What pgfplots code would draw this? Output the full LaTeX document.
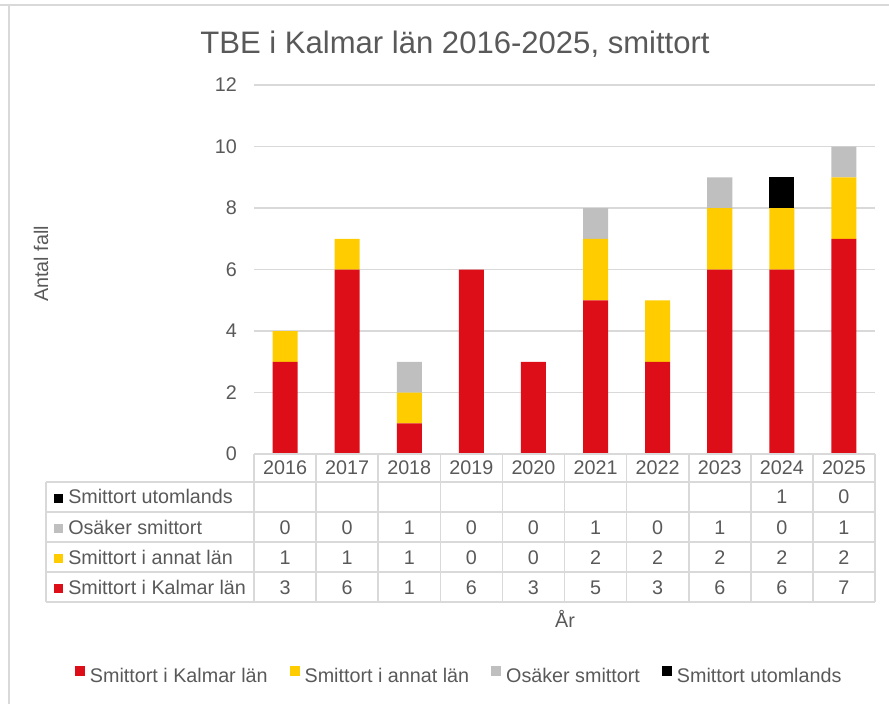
\documentclass[border=0pt]{standalone}
\usepackage{pgfplots}
\pgfplotsset{compat=1.18}
\usepackage{pgfplotstable}
\usepackage{fontspec}
\setmainfont{Liberation Sans}
\definecolor{kred}{RGB}{222,14,24}
\definecolor{kyel}{RGB}{255,204,0}
\definecolor{kgry}{RGB}{191,191,191}
\definecolor{txt}{RGB}{89,89,89}
\definecolor{lin}{RGB}{217,217,217}
\newcommand{\tf}{\fontsize{14.8pt}{17pt}\selectfont}

\pgfplotstableread{
x kalmar annat osaker utom
0 3 1 0 0
1 6 1 0 0
2 1 1 1 0
3 6 0 0 0
4 3 0 0 0
5 5 2 1 0
6 3 2 0 0
7 6 2 1 0
8 6 2 0 1
9 7 2 1 0
}\data

\pgfplotsset{sq/.style={legend image code/.code={\fill[##1] (0pt,0pt) rectangle (7.5pt,7.5pt);}}}

\begin{document}
\begin{tikzpicture}
\begin{scope}[x=0.75pt,y=0.75pt]
\path[use as bounding box] (0,0) rectangle (889,704);
\draw[lin, line width=1.5pt] (0,699) -- (889,699);
\draw[lin, line width=1.5pt] (8.5,699) -- (8.5,0);
\node[anchor=base, inner sep=0pt, text=txt, font=\fontsize{23.3pt}{26pt}\selectfont] at (455,650) {TBE i Kalmar län 2016-2025, smittort};
\end{scope}

\begin{axis}[
  at={(190.5pt,187.5pt)}, anchor=south west,
  scale only axis, width=465.75pt, height=276.75pt,
  ybar stacked, bar width=18.75pt,
  xmin=-0.5, xmax=9.5, ymin=0, ymax=12,
  ytick={0,2,...,12}, xtick=\empty,
  ymajorgrids, grid style={lin, line width=1pt},
  axis line style={draw=none}, major tick length=0pt,
  tick label style={font=\tf, text=txt},
  yticklabel style={inner sep=0pt, xshift=-12.75pt},
  /pgf/number format/assume math mode=true,
  clip=false,
  legend style={at={(-0.2887,-0.599)}, anchor=west, draw=none, fill=none,
    inner sep=0pt, legend columns=4,
    nodes={inner sep=0pt, font=\tf, text=txt},
    column sep=3.75pt,
    /tikz/every even column/.append style={column sep=16.5pt}},
]
\addplot[fill=kred, draw=none, sq] table[x=x, y=kalmar]{\data};
\addlegendentry{Smittort i Kalmar län}
\addplot[fill=kyel, draw=none, sq] table[x=x, y=annat]{\data};
\addlegendentry{Smittort i annat län}
\addplot[fill=kgry, draw=none, sq] table[x=x, y=osaker]{\data};
\addlegendentry{Osäker smittort}
\addplot[fill=black, draw=none, sq] table[x=x, y=utom]{\data};
\addlegendentry{Smittort utomlands}
\end{axis}

\begin{scope}[x=0.75pt,y=0.75pt]
% data table
\begin{scope}[lin, line width=1.2pt]
\draw (254,250) -- (875,250);
\foreach \y in {222,192,162,132,102} \draw (46,\y) -- (875,\y);
\draw (46,222) -- (46,102);
\foreach \i in {0,...,10} \draw ({254+62.1*\i},250) -- ({254+62.1*\i},102);
\end{scope}

\begin{scope}[every node/.style={anchor=base, inner sep=0pt, font=\tf, text=txt}]
\foreach \v [count=\i from 0] in {2016,2017,2018,2019,2020,2021,2022,2023,2024,2025}
  \node at ({254+62.1*(\i+0.5)},229) {\v};
\node at ({254+62.1*8.5},200) {1};
\node at ({254+62.1*9.5},200) {0};
\foreach \v [count=\i from 0] in {0,0,1,0,0,1,0,1,0,1}
  \node at ({254+62.1*(\i+0.5)},170) {\v};
\foreach \v [count=\i from 0] in {1,1,1,0,0,2,2,2,2,2}
  \node at ({254+62.1*(\i+0.5)},140) {\v};
\foreach \v [count=\i from 0] in {3,6,1,6,3,5,3,6,6,7}
  \node at ({254+62.1*(\i+0.5)},110) {\v};
\node[anchor=base west] at (68,200) {Smittort utomlands};
\node[anchor=base west] at (68,170) {Osäker smittort};
\node[anchor=base west] at (68,140) {Smittort i annat län};
\node[anchor=base west] at (68,110) {Smittort i Kalmar län};
\node at (565,77) {År};
\node[rotate=90] at (48,440) {Antal fall};
\end{scope}
\fill[black] (54,201) rectangle (63,210);
\fill[kgry] (54,171) rectangle (63,180);
\fill[kyel] (54,141) rectangle (63,150);
\fill[kred] (54,111) rectangle (63,120);
\end{scope}
\end{tikzpicture}
\end{document}
